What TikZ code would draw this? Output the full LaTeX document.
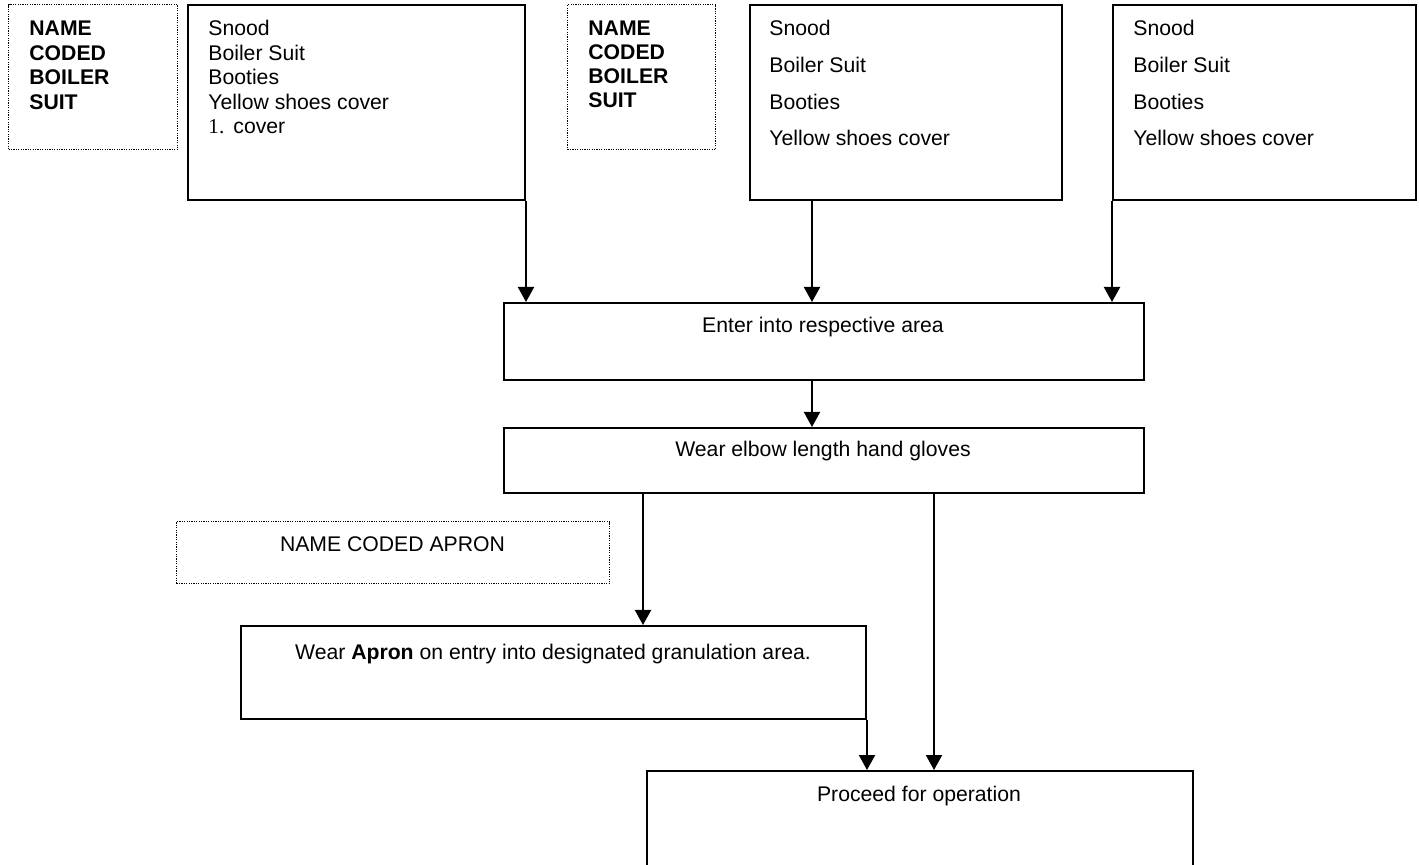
\documentclass[tikz,border=0pt]{standalone}
\usepackage{fontspec}
\setmainfont{Liberation Sans}
\newfontfamily\numfont{Liberation Serif}
\usetikzlibrary{arrows.meta}
\begin{document}
\begin{tikzpicture}[x=0.5pt,y=-0.5pt,
  box/.style={draw,line width=1pt,inner sep=0pt,anchor=north west},
  dbox/.style={draw,line width=0.6pt,dash pattern=on 0.6pt off 0.6pt,inner sep=0pt,anchor=north west},
  txt/.style={inner sep=0pt,anchor=base west,font=\fontsize{10.6}{12}\selectfont},
  btxt/.style={txt,font=\fontsize{10.6}{12}\selectfont\bfseries},
  ctxt/.style={inner sep=0pt,anchor=base,font=\fontsize{10.6}{12}\selectfont},
  arr/.style={line width=1pt,-{Triangle[length=7.5pt,width=8pt]}}]
\useasboundingbox (0,0) rectangle (1419,865);
\clip (0,0) rectangle (1419,865);

% boxes
\node[dbox,minimum width=84.5pt,minimum height=72.5pt] (d1) at (8,4) {};
\node[box,minimum width=168.5pt,minimum height=97.5pt] (b2) at (187,4) {};
\node[dbox,minimum width=74pt,minimum height=72.5pt] (d2) at (567,4) {};
\node[box,minimum width=156pt,minimum height=97.5pt] (b3) at (749,4) {};
\node[box,minimum width=151.5pt,minimum height=97.5pt] (b4) at (1112,4) {};
\node[box,minimum width=320pt,minimum height=38.5pt] (enter) at (503,302) {};
\node[box,minimum width=320pt,minimum height=32.5pt] (gloves) at (503,427) {};
\node[dbox,minimum width=216.5pt,minimum height=31pt] (dapron) at (176,521) {};
\node[box,minimum width=312.5pt,minimum height=46.5pt] (apron) at (240,625) {};
\node[box,minimum width=273pt,minimum height=75pt] (proceed) at (646,770) {};

% texts of first dotted box
\node[btxt] (d1a) at (29,36) {NAME};
\node[btxt] (d1b) at (29,60.5) {CODED};
\node[btxt] (d1c) at (29,85) {BOILER};
\node[btxt] (d1d) at (29,109.5) {SUIT};

% texts of box 2
\node[txt] (b2a) at (208,36) {Snood};
\node[txt] (b2b) at (208,60.5) {Boiler Suit};
\node[txt] (b2c) at (208,85) {Booties};
\node[txt] (b2d) at (208,109.5) {Yellow shoes cover};
\node[txt,font=\fontsize{10.6}{12}\numfont] (b2e) at (208,134) {1.};
\node[txt] (b2f) at (233,134) {cover};

% texts of second dotted box
\node[btxt] (d2a) at (588,36) {NAME};
\node[btxt] (d2b) at (588,60) {CODED};
\node[btxt] (d2c) at (588,84) {BOILER};
\node[btxt] (d2d) at (588,108) {SUIT};

% texts of box 3
\node[txt] (b3a) at (769,36) {Snood};
\node[txt] (b3b) at (769,72.7) {Boiler Suit};
\node[txt] (b3c) at (769,109.3) {Booties};
\node[txt] (b3d) at (769,146) {Yellow shoes cover};

% texts of box 4
\node[txt] (b4a) at (1133,36) {Snood};
\node[txt] (b4b) at (1133,72.7) {Boiler Suit};
\node[txt] (b4c) at (1133,109.3) {Booties};
\node[txt] (b4d) at (1133,146) {Yellow shoes cover};

% centred texts
\node[ctxt] (tenter) at (823,333) {Enter into respective area};
\node[ctxt] (tgloves) at (823,457) {Wear elbow length hand gloves};
\node[ctxt] (tdapron) at (392.5,552) {NAME CODED APRON};
\node[ctxt] (tapron) at (553,660) {Wear \textbf{Apron} on entry into designated granulation area.};
\node[ctxt] (tproceed) at (919,801) {Proceed for operation};

% connectors
\coordinate (m3) at (812,0);
\coordinate (g1) at (643,0);
\coordinate (g2) at (934,0);
\draw[arr] (b2.south east) -- (b2.south east |- enter.north);
\draw[arr] (b3.south -| m3) -- (enter.north -| m3);
\draw[arr] (b4.south west) -- (b4.south west |- enter.north);
\draw[arr] (enter.south -| m3) -- (gloves.north -| m3);
\draw[arr] (gloves.south -| g1) -- (apron.north -| g1);
\draw[arr] (gloves.south -| g2) -- (proceed.north -| g2);
\draw[arr] (apron.south east) -- (apron.south east |- proceed.north);
\end{tikzpicture}
\end{document}
